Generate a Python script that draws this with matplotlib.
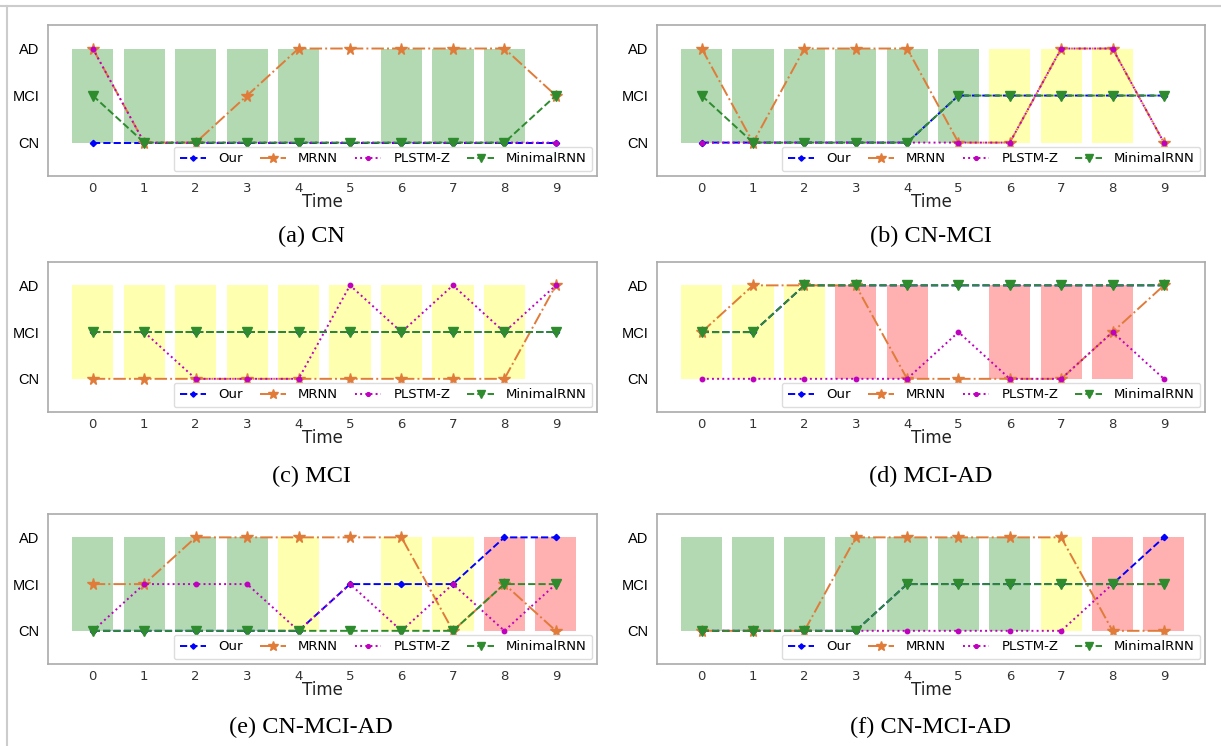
import matplotlib.pyplot as plt
import numpy as np

# time steps and diagnosis levels (0 = CN, 1 = MCI, 2 = AD)
time = np.arange(10)
levels = ["CN", "MCI", "AD"]
methods = ["Our", "MRNN", "PLSTM-Z", "MinimalRNN"]
captions = ["(a) CN", "(b) CN-MCI", "(c) MCI", "(d) MCI-AD", "(e) CN-MCI-AD", "(f) CN-MCI-AD"]

# ground truth per time step (None = no visit)
truth_a = [0, 0, 0, 0, 0, None, 0, 0, 0, None]
truth_b = [0, 0, 0, 0, 0, 0, 1, 1, 1, None]
truth_c = [1, 1, 1, 1, 1, 1, 1, 1, 1, None]
truth_d = [1, 1, 1, 2, 2, None, 2, 2, 2, None]
truth_e = [0, 0, 0, 0, 1, None, 1, 1, 2, 2]
truth_f = [0, 0, 0, 0, 0, 0, 0, 1, 2, 2]

# predictions: Our, MRNN, PLSTM-Z, MinimalRNN
pred_a = [[0, 0, 0, 0, 0, 0, 0, 0, 0, 0],
          [2, 0, 0, 1, 2, 2, 2, 2, 2, 1],
          [2, 0, 0, 0, 0, 0, 0, 0, 0, 0],
          [1, 0, 0, 0, 0, 0, 0, 0, 0, 1]]
pred_b = [[0, 0, 0, 0, 0, 1, 1, 1, 1, 1],
          [2, 0, 2, 2, 2, 0, 0, 2, 2, 0],
          [0, 0, 0, 0, 0, 0, 0, 2, 2, 0],
          [1, 0, 0, 0, 0, 1, 1, 1, 1, 1]]
pred_c = [[1, 1, 1, 1, 1, 1, 1, 1, 1, 1],
          [0, 0, 0, 0, 0, 0, 0, 0, 0, 2],
          [1, 1, 0, 0, 0, 2, 1, 2, 1, 2],
          [1, 1, 1, 1, 1, 1, 1, 1, 1, 1]]
pred_d = [[1, 1, 2, 2, 2, 2, 2, 2, 2, 2],
          [1, 2, 2, 2, 0, 0, 0, 0, 1, 2],
          [0, 0, 0, 0, 0, 1, 0, 0, 1, 0],
          [1, 1, 2, 2, 2, 2, 2, 2, 2, 2]]
pred_e = [[0, 0, 0, 0, 0, 1, 1, 1, 2, 2],
          [1, 1, 2, 2, 2, 2, 2, 0, 1, 0],
          [0, 1, 1, 1, 0, 1, 0, 1, 0, 1],
          [0, 0, 0, 0, 0, 0, 0, 0, 1, 1]]
pred_f = [[0, 0, 0, 0, 1, 1, 1, 1, 1, 2],
          [0, 0, 0, 2, 2, 2, 2, 2, 0, 0],
          [0, 0, 0, 0, 0, 0, 0, 0, 1, 1],
          [0, 0, 0, 0, 1, 1, 1, 1, 1, 1]]

truths = [truth_a, truth_b, truth_c, truth_d, truth_e, truth_f]
preds = [pred_a, pred_b, pred_c, pred_d, pred_e, pred_f]

bar_colors = {0: "#b2d9b2", 1: "#ffffb0", 2: "#ffb0b0"}
styles = [
    dict(color="blue", linestyle="--", marker="D", markersize=3.2),
    dict(color="#e07b39", linestyle="-.", marker="*", markersize=8.5),
    dict(color="m", linestyle=":", marker="o", markersize=3.2),
    dict(color="#2e8b2e", linestyle="--", marker="v", markersize=7),
]

W, H = 1221, 746
fig = plt.figure(figsize=(W / 100, H / 100), dpi=100)

# axes boxes in pixels: left, right, top, bottom
cols = [(48, 597), (657, 1205)]
rows = [(25, 176), (262, 412), (514, 664)]
cap_x = [311, 931]
cap_y = [236, 476, 727]

for i in range(6):
    r, c = divmod(i, 2)
    x0, x1 = cols[c]
    y0, y1 = rows[r]
    ax = fig.add_axes([x0 / W, 1 - y1 / H, (x1 - x0) / W, (y1 - y0) / H])

    t_idx = [t for t, v in zip(time, truths[i]) if v is not None]
    t_val = [v for v in truths[i] if v is not None]
    ax.bar(t_idx, [2] * len(t_idx), width=0.8,
           color=[bar_colors[v] for v in t_val], zorder=1)

    for name, vals, st in zip(methods, preds[i], styles):
        ax.plot(time, vals, label=name, linewidth=1.4, zorder=3, **st)

    ax.set_xlim(-0.87, 9.8)
    ax.set_ylim(-0.71, 2.5)
    ax.set_xticks(time)
    ax.set_yticks([0, 1, 2])
    ax.set_yticklabels(levels, fontsize=10.5, family="Liberation Sans")
    ax.tick_params(axis="x", labelsize=9.5, length=0, pad=4, colors="#333333")
    ax.tick_params(axis="y", length=0, pad=6)
    ax.set_xlabel("Time", fontsize=12, labelpad=-1, color="#222222")
    for s in ax.spines.values():
        s.set_color("#aaaaaa")
        s.set_linewidth(1.2)
    ax.legend(loc="lower right", ncol=4, fontsize=9.5, handlelength=2.0,
              columnspacing=1.3, borderaxespad=0.35, framealpha=1,
              edgecolor="#dddddd", borderpad=0.45, handletextpad=0.9,
              markerscale=0.85)

    fig.text(cap_x[c] / W, 1 - cap_y[r] / H, captions[i], ha="center",
             va="center", fontsize=17.5, family="Liberation Serif")

# thin frame lines around the composite
fig.add_artist(plt.Line2D([0, 1], [1 - 6 / H, 1 - 6 / H], color="#cccccc", linewidth=1.5))
fig.add_artist(plt.Line2D([7.5 / W, 7.5 / W], [0, 1 - 6 / H], color="#cccccc", linewidth=1.5))

fig.savefig("out.png", dpi=100)
